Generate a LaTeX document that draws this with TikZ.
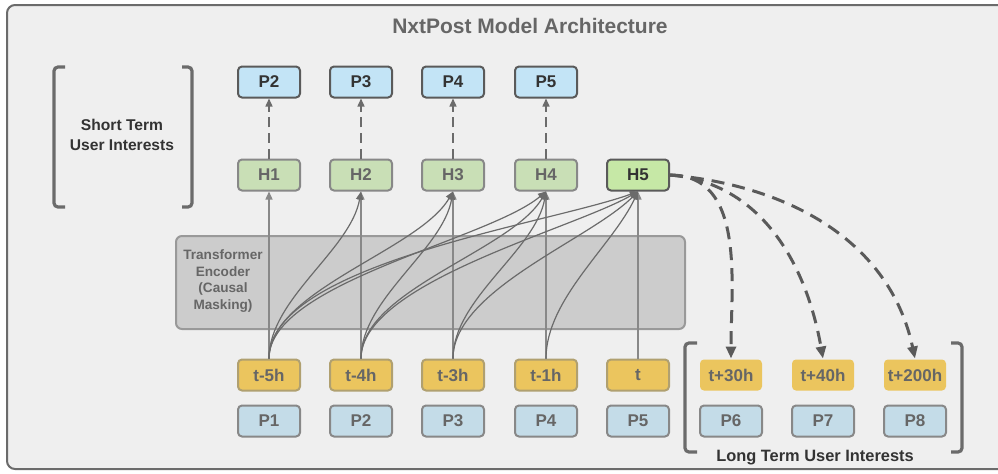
\documentclass[tikz,border=0pt]{standalone}
\usepackage{fontspec}
\setmainfont{Liberation Sans}
\usetikzlibrary{arrows.meta}

\definecolor{framefill}{HTML}{EFEFEF}
\definecolor{framedraw}{HTML}{6B6B6B}
\definecolor{ptopfill}{HTML}{C3E4F6}
\definecolor{hfill}{HTML}{C9DFB6}
\definecolor{hlastfill}{HTML}{C6E8A6}
\definecolor{tfill}{HTML}{EBC55E}
\definecolor{tdraw}{HTML}{B0A070}
\definecolor{pbotfill}{HTML}{C4DCE8}
\definecolor{encfill}{HTML}{CCCCCC}
\definecolor{encdraw}{HTML}{999999}
\definecolor{darkline}{HTML}{5A5A5A}
\definecolor{lightline}{HTML}{888888}
\definecolor{greytext}{HTML}{666666}
\definecolor{darktext}{HTML}{333333}

\begin{document}
\begin{tikzpicture} [x=0.5pt, y=-0.5pt,
		box/.style = {shape=rectangle, rounded corners=2pt, line width=1pt,
			minimum width=31pt, minimum height=15.5pt, inner sep=0pt,
			font=\fontsize{8.5}{10}\selectfont\bfseries},
		ptop/.style = {box, draw=darkline, fill=ptopfill, text=darktext},
		hbox/.style = {box, draw=lightline, fill=hfill, text=greytext},
		hlast/.style = {box, draw=darkline, fill=hlastfill, text=darktext},
		tbox/.style = {box, draw=tdraw, fill=tfill, text=greytext},
		tfuture/.style = {box, fill=tfill, text=greytext},
		pbot/.style = {box, draw=lightline, fill=pbotfill, text=greytext},
		predict/.style = {draw=darkline!90, line width=0.75pt, dash pattern=on 5pt off 2.8pt,
			-{Triangle[length=4pt, width=3.5pt]}},
		feed/.style = {draw=lightline, line width=0.7pt,
			-{Triangle[length=4pt, width=3.5pt]}},
		attend/.style = {draw=darkline!90, line width=0.6pt,
			-{Triangle[length=4pt, width=3.5pt]}},
		future/.style = {draw=darkline, line width=1.5pt, dash pattern=on 6.5pt off 4pt,
			-{Triangle[length=6pt, width=5pt]}},
		bracket/.style = {draw=framedraw, line width=1.6pt, rounded corners=2pt}]

	\useasboundingbox (0,0) rectangle (998,473);
	\clip (0,0) rectangle (998,473);

	% frame
	\draw [fill=framefill, draw=framedraw, line width=1pt, rounded corners=4pt]
		(7,5) rectangle (1030,469);
	\node (title) [text=greytext, font=\fontsize{10.5}{12}\selectfont\bfseries]
		at (530,26) {NxtPost Model Architecture};

	% short term
	\draw [bracket] (65,67) -- (54,67) -- (54,207) -- (65,207);
	\draw [bracket] (182,67) -- (192,67) -- (192,207) -- (182,207);
	\node (shortlabel) [text=darktext, align=center,
		font=\fontsize{7.8}{10}\selectfont\bfseries] at (122,135)
		{Short Term\\User Interests};

	% encoder
	\node (enc) [shape=rectangle, rounded corners=3pt, fill=encfill, draw=encdraw,
		line width=1pt, minimum width=254.5pt, minimum height=46.5pt] at (430.5,282.5) {};
	\node (enclabel) [text=greytext, align=center,
		font=\fontsize{6.8}{8.3}\selectfont\bfseries] at (223,281)
		{Transformer\\Encoder\\(Causal\\Masking)};

	% outputs
	\node (P2) [ptop] at (269,82) {P2};
	\node (P3) [ptop] at (361,82) {P3};
	\node (P4) [ptop] at (453,82) {P4};
	\node (P5) [ptop] at (546,82) {P5};

	\node (H1) [hbox] at (269,175) {H1};
	\node (H2) [hbox] at (361,175) {H2};
	\node (H3) [hbox] at (453,175) {H3};
	\node (H4) [hbox] at (546,175) {H4};
	\node (H5) [hlast] at (638,175) {H5};

	% inputs
	\node (T1) [tbox] at (269,375) {t-5h};
	\node (T2) [tbox] at (361,375) {t-4h};
	\node (T3) [tbox] at (453,375) {t-3h};
	\node (T4) [tbox] at (546,375) {t-1h};
	\node (T5) [tbox] at (638,375) {t};

	\node (Q1) [pbot] at (269,421) {P1};
	\node (Q2) [pbot] at (361,421) {P2};
	\node (Q3) [pbot] at (453,421) {P3};
	\node (Q4) [pbot] at (546,421) {P4};
	\node (Q5) [pbot] at (638,421) {P5};

	% long term
	\node (T6) [tfuture] at (731,375) {t+30h};
	\node (T7) [tfuture] at (823,375) {t+40h};
	\node (T8) [tfuture] at (915,375) {t+200h};

	\node (Q6) [pbot] at (731,421) {P6};
	\node (Q7) [pbot] at (823,421) {P7};
	\node (Q8) [pbot] at (915,421) {P8};

	\draw [bracket] (697,343) -- (685,343) -- (685,452) -- (697,452);
	\draw [bracket] (951,343) -- (962,343) -- (962,452) -- (951,452);
	\node (longlabel) [text=darktext, font=\fontsize{8.2}{10}\selectfont\bfseries]
		at (815,458) {Long Term User Interests};

	% predictions
	\draw [predict] (H1) -- (P2);
	\draw [predict] (H2) -- (P3);
	\draw [predict] (H3) -- (P4);
	\draw [predict] (H4) -- (P5);

	% straight inputs
	\draw [feed] (T1) -- (H1);
	\draw [feed] (T2) -- (H2);
	\draw [feed] (T3) -- (H3);
	\draw [feed] (T4) -- (H4);
	\draw [feed] (T5) -- (H5);

	% causal attention
	\draw [attend] (T1.north) to [out=90, in=-100, looseness=0.8] (H2.south);
	\draw [attend] (T1.north) to [out=90, in=-120, looseness=0.7] (H3.south);
	\draw [attend] (T1.north) to [out=90, in=-140, looseness=0.6] (H4.south);
	\draw [attend] (T1.north) to [out=90, in=-160, looseness=0.6] (H5.south);
	\draw [attend] (T2.north) to [out=90, in=-100, looseness=0.8] (H3.south);
	\draw [attend] (T2.north) to [out=90, in=-120, looseness=0.7] (H4.south);
	\draw [attend] (T2.north) to [out=90, in=-150, looseness=0.6] (H5.south);
	\draw [attend] (T3.north) to [out=90, in=-100, looseness=0.8] (H4.south);
	\draw [attend] (T3.north) to [out=90, in=-135, looseness=0.7] (H5.south);
	\draw [attend] (T4.north) to [out=90, in=-115, looseness=0.8] (H5.south);

	% long term predictions
	\draw [future] (H5.east) to [out=0, in=90, looseness=1] (T6.north);
	\draw [future] (H5.east) to [out=-5, in=100, looseness=1] (T7.north);
	\draw [future] (H5.east) to [out=-5, in=102, looseness=1] (T8.north);

\end{tikzpicture}
\end{document}
